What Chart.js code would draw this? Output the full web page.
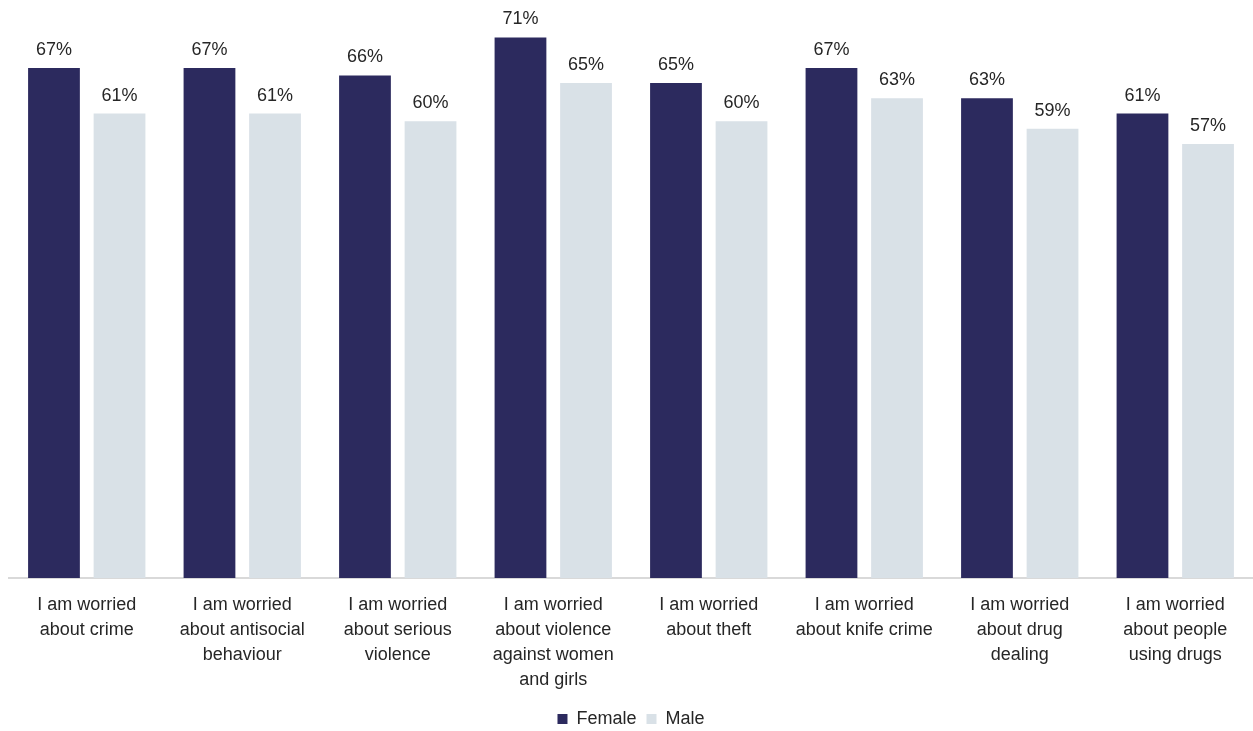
<!DOCTYPE html>
<html>
<head>
<meta charset="utf-8">
<script src="https://cdn.jsdelivr.net/npm/chart.js@4/dist/chart.umd.min.js"></script>
<style>
  html, body { margin: 0; padding: 0; background: #fff; }
  #wrap { width: 1253px; height: 731px; }
</style>
</head>
<body>
<div id="wrap"><canvas id="chart" width="1253" height="731"></canvas></div>
<script>
const categories = [
  ['I am worried', 'about crime'],
  ['I am worried', 'about antisocial', 'behaviour'],
  ['I am worried', 'about serious', 'violence'],
  ['I am worried', 'about violence', 'against women', 'and girls'],
  ['I am worried', 'about theft'],
  ['I am worried', 'about knife crime'],
  ['I am worried', 'about drug', 'dealing'],
  ['I am worried', 'about people', 'using drugs']
];
const female = [67, 67, 66, 71, 65, 67, 63, 61];
const male = [61, 61, 60, 65, 60, 63, 59, 57];

const FONT = '"Liberation Sans", Arial, Helvetica, sans-serif';

// Draw the percentage above each bar
const valueLabels = {
  id: 'valueLabels',
  afterDatasetsDraw(chart) {
    const ctx = chart.ctx;
    ctx.save();
    ctx.font = '18px ' + FONT;
    ctx.fillStyle = '#262626';
    ctx.textAlign = 'center';
    ctx.textBaseline = 'bottom';
    chart.data.datasets.forEach((ds, i) => {
      chart.getDatasetMeta(i).data.forEach((bar, j) => {
        ctx.fillText(ds.data[j] + '%', bar.x, bar.y - 9);
      });
    });
    ctx.restore();
  }
};

new Chart(document.getElementById('chart').getContext('2d'), {
  type: 'bar',
  data: {
    labels: categories,
    datasets: [
      { label: 'Female', data: female, backgroundColor: '#2c2a5e' },
      { label: 'Male', data: male, backgroundColor: '#d9e1e7' }
    ]
  },
  options: {
    responsive: false,
    animation: false,
    layout: { padding: { left: 9, right: 0, top: 7, bottom: -7 } },
    datasets: {
      bar: { categoryPercentage: 0.843, barPercentage: 0.79 }
    },
    scales: {
      x: {
        grid: { display: false },
        border: { color: '#d9d9d9', width: 2 },
        ticks: {
          color: '#262626',
          font: { family: FONT, size: 18, lineHeight: 1.39 },
          maxRotation: 0,
          autoSkip: false,
          padding: 7
        }
      },
      y: {
        display: false,
        min: 0,
        max: 75
      }
    },
    plugins: {
      legend: {
        position: 'bottom',
        labels: {
          boxWidth: 10,
          boxHeight: 10,
          color: '#262626',
          padding: 10,
          font: { family: FONT, size: 18 }
        }
      },
      tooltip: { enabled: false }
    }
  },
  plugins: [valueLabels]
});
</script>
</body>
</html>
